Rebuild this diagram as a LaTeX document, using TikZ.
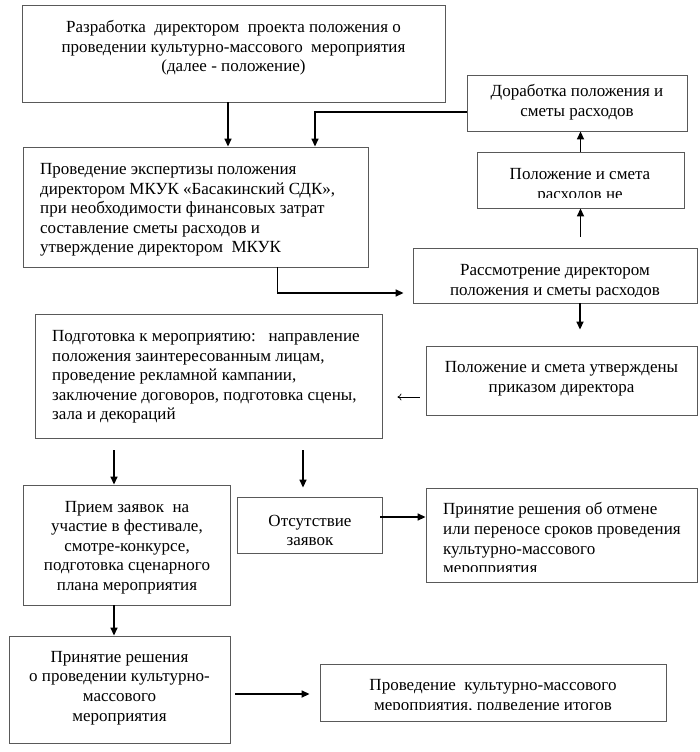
\documentclass[tikz,border=0pt]{standalone}
\usepackage{fontspec}
\setmainfont{Liberation Serif}
\usetikzlibrary{arrows.meta}

\begin{document}
\begin{tikzpicture}[
    x=1pt, y=-1pt,
    box/.style={
        rectangle,
        draw=black!65, line width=0.9pt,
        inner sep=0pt
    },
    txt/.style={
        inner sep=0pt,
        font=\fontsize{17}{19.6}\selectfont
    },
    arrow/.style={-{Triangle[length=8pt,width=7pt]}, line width=1.6pt},
    thinarrow/.style={-{To[length=4pt,width=7pt]}, line width=0.7pt}
]
\fill[white] (0,0) rectangle (700,752);
\useasboundingbox (0,0) rectangle (700,752);

% Boxes
\node[box, minimum width=423, minimum height=97] (razr) at (233.5,53.5) {};
\node[box, minimum width=220, minimum height=56] (dorab) at (577,103) {};
\node[box, minimum width=207, minimum height=56] (ne) at (580.5,180) {};
\node[box, minimum width=345, minimum height=120] (eksp) at (195.5,207) {};
\node[box, minimum width=284, minimum height=55] (rassm) at (555,275.5) {};
\node[box, minimum width=271, minimum height=69] (utv) at (561.5,380.5) {};
\node[box, minimum width=347, minimum height=124] (podg) at (208.5,376) {};
\node[box, minimum width=207, minimum height=120] (priem) at (126.5,545) {};
\node[box, minimum width=145, minimum height=56] (otsut) at (309.5,525) {};
\node[box, minimum width=271, minimum height=94] (otmena) at (561.5,535) {};
\node[box, minimum width=221, minimum height=107] (reshenie) at (119.5,689.5) {};
\node[box, minimum width=346, minimum height=57] (itogi) at (493,692.5) {};

% Texts
\node[txt, align=center] (razr-t) at (233.5,48) {%
Разработка\ \ директором\ \ проекта положения о\\
проведении культурно-массового\ \ мероприятия\\
(далее - положение)
};
\node[txt, align=center] (dorab-t) at (577,102.5) {%
Доработка положения и\\
сметы расходов
};
\begin{scope}
\clip (ne.north west) rectangle (ne.east |- 0,197);
\node[txt, align=center] (ne-t) at (580,185.5) {%
Положение и смета\\
расходов не
};
\end{scope}
\node[txt, align=left, anchor=west] (eksp-t) at (40,210) {%
Проведение экспертизы положения\\
директором МКУК «Басакинский СДК»,\\
при необходимости финансовых затрат\\
составление сметы расходов и\\
утверждение директором\ \ МКУК
};
\begin{scope}
\clip (rassm.north west) rectangle (rassm.east |- 0,296);
\node[txt, align=center] (rassm-t) at (555,282) {%
Рассмотрение директором\\
положения и сметы расходов
};
\end{scope}
\node[txt, align=center] (utv-t) at (561.5,378.5) {%
Положение и смета утверждены\\
приказом директора
};
\node[txt, align=left, anchor=west] (podg-t) at (52,377) {%
Подготовка к мероприятию:\ \ \ направление\\
положения заинтересованным лицам,\\
проведение рекламной кампании,\\
заключение договоров, подготовка сцены,\\
зала и декораций
};
\node[txt, align=center] (priem-t) at (127,547.5) {%
Прием заявок\ \ на\\
участие в фестивале,\\
смотре-конкурсе,\\
подготовка сценарного\\
плана мероприятия
};
\node[txt, align=center] (otsut-t) at (310,530.5) {%
Отсутствие\\
заявок
};
\begin{scope}
\clip (otmena.north west) rectangle (otmena.east |- 0,571);
\node[txt, align=left, anchor=west] (otmena-t) at (443,540) {%
Принятие решения об отмене\\
или переносе сроков проведения\\
культурно-массового\\
мероприятия
};
\end{scope}
\node[txt, align=center] (reshenie-t) at (119.5,688) {%
Принятие решения\\
о проведении культурно-\\
массового\\
мероприятия
};
\begin{scope}
\clip (itogi.north west) rectangle (itogi.east |- 0,709);
\node[txt, align=center] (itogi-t) at (493,697) {%
Проведение\ \ культурно-массового\\
мероприятия, подведение итогов
};
\end{scope}

% Arrows
\draw[arrow] ([xshift=-5.5]razr.south) -- ([xshift=-5.5]razr.south |- eksp.north);
\draw[arrow] ([yshift=-9]dorab.west) -| ([xshift=119.5]eksp.north);
\draw[arrow, shorten >=9pt] ([xshift=82]eksp.south) |- ([yshift=-17.5]rassm.west);
\draw[arrow, shorten <=11pt] (ne.south |- rassm.north) -- (ne.south);
\draw[arrow] (ne.north) -- (ne.north |- dorab.south);
\draw[arrow, shorten >=16pt] ([xshift=25]rassm.south) -- ([xshift=25]rassm.south |- utv.north);
\draw[thinarrow, shorten <=6pt, shorten >=15pt] ([yshift=-16.5]utv.west) -- ([yshift=-16.5]utv.west -| podg.east);
\draw[arrow, shorten <=12pt] ([xshift=-12.5]priem.north |- podg.south) -- ([xshift=-12.5]priem.north);
\draw[arrow, shorten <=12pt, shorten >=9pt] ([xshift=-6.5]otsut.north |- podg.south) -- ([xshift=-6.5]otsut.north);
\draw[arrow, shorten <=-2pt] ([yshift=8]otsut.east) -- ([yshift=8]otsut.east -| otmena.west);
\draw[arrow] ([xshift=-12.5]priem.south) -- ([xshift=-12.5]priem.south |- reshenie.north);
\draw[arrow, shorten <=5pt, shorten >=10pt] ([yshift=-4.5]reshenie.east) -- ([yshift=-4.5]reshenie.east -| itogi.west);

\end{tikzpicture}
\end{document}
